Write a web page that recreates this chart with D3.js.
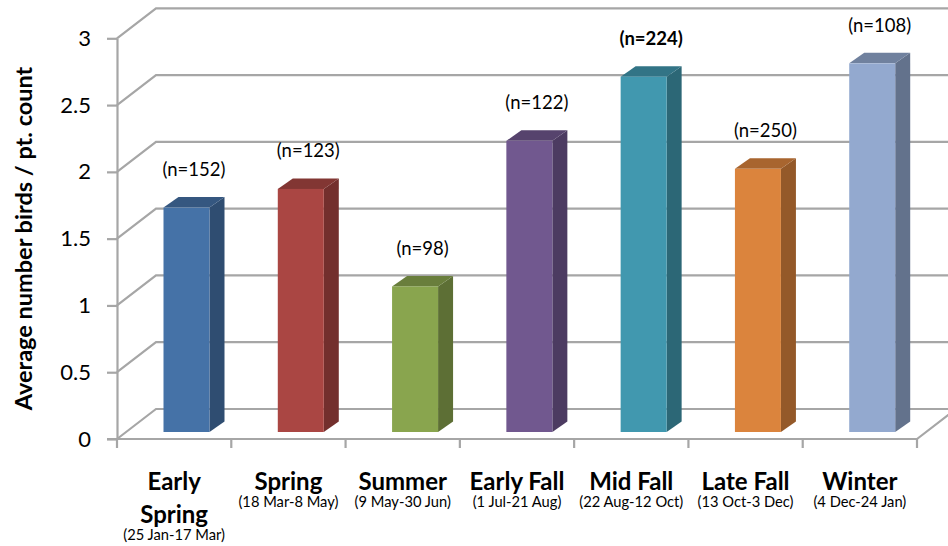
<!DOCTYPE html>
<html>
<head>
<meta charset="utf-8">
<script src="https://cdn.jsdelivr.net/npm/d3@7"></script>
<style>
  html, body { margin: 0; padding: 0; background: #fff; }
  svg { display: block; font-family: Lato, "Open Sans", sans-serif; }
</style>
</head>
<body>
<svg id="chart" width="948" height="546"></svg>
<script>
// ---- data ----
const categories = ["Early Spring", "Spring", "Summer", "Early Fall", "Mid Fall", "Late Fall", "Winter"];
const categoryLines = [["Early", "Spring"], ["Spring"], ["Summer"], ["Early Fall"], ["Mid Fall"], ["Late Fall"], ["Winter"]];
const dateRanges = ["(25 Jan-17 Mar)", "(18 Mar-8 May)", "(9 May-30 Jun)", "(1 Jul-21 Aug)", "(22 Aug-12 Oct)", "(13 Oct-3 Dec)", "(4 Dec-24 Jan)"];
const values = [1.68, 1.82, 1.09, 2.18, 2.66, 1.97, 2.76];
const sampleSizes = [152, 123, 98, 122, 224, 250, 108];
const yTicks = [0, 0.5, 1, 1.5, 2, 2.5, 3];
const yTitle = "Average number birds / pt. count";

// ---- styles ----
const palette = ["#4572A7", "#AA4643", "#89A54E", "#71588F", "#4198AF", "#DB843D", "#93A9CF"];
const gridColor = "#a6a6a6";
const emphasized = "Mid Fall";

// ---- layout ----
const svg = d3.select("#chart");
const x = d3.scaleBand().domain(categories).range([117, 917]).paddingInner(0).paddingOuter(0);
const y = d3.scaleLinear().domain([0, 3]).range([439, 38.3]);
const wall = { dx: 39, dy: -30 };
const barDepth = { dx: 15, dy: -10.5 };
const barLift = 7;       // bars sit part-way into the floor depth
const barInset = 46.5;   // front-left of bar from band start
const barW = 46;

const grid = svg.append("g").attr("fill", "none").attr("stroke", gridColor).attr("stroke-width", 2.2);

// back-wall gridlines + side-wall diagonals
yTicks.forEach(t => {
  const yy = y(t);
  grid.append("path").attr("d", `M${x.range()[0]},${yy}L${x.range()[0] + wall.dx},${yy + wall.dy}L948,${yy + wall.dy}`);
});

// y axis
const yAxis = d3.axisLeft(y).tickValues(yTicks).tickSize(10).tickSizeOuter(0).tickPadding(16).tickFormat(d3.format(""));
const yg = svg.append("g").attr("transform", `translate(${x.range()[0]},0)`).call(yAxis);
yg.selectAll("path, line").attr("stroke", gridColor).attr("stroke-width", 2.2);
yg.selectAll("text").attr("font-family", "Lato, sans-serif").attr("font-size", 22).attr("fill", "#000");

// x axis (front floor edge)
const x0 = y(0);
grid.append("path").attr("d", `M${x.range()[0] - 10},${x0}L${x.range()[1]},${x0}L${x.range()[1] + wall.dx},${x0 + wall.dy}`);
const edges = categories.map(c => x(c)).concat([x.range()[1]]);
grid.selectAll("line.xt").data(edges).join("line")
  .attr("x1", d => d).attr("x2", d => d).attr("y1", x0).attr("y2", x0 + 9);

// bars
const bars = svg.append("g");
categories.forEach((c, i) => {
  const fx = x(c) + barInset;
  const base = y(0) - barLift;
  const top = y(values[i]) - barLift;
  const col = d3.color(palette[i]);
  const g = bars.append("g");
  // side
  g.append("path").attr("fill", col.darker(1.1))
    .attr("d", `M${fx + barW},${base}L${fx + barW + barDepth.dx},${base + barDepth.dy}L${fx + barW + barDepth.dx},${top + barDepth.dy}L${fx + barW},${top}Z`);
  // top
  g.append("path").attr("fill", col.darker(0.75))
    .attr("d", `M${fx},${top}L${fx + barDepth.dx},${top + barDepth.dy}L${fx + barW + barDepth.dx},${top + barDepth.dy}L${fx + barW},${top}Z`);
  // front
  g.append("rect").attr("x", fx).attr("y", top).attr("width", barW).attr("height", base - top).attr("fill", col);

  // n label
  svg.append("text")
    .attr("x", fx + barW / 2 + barDepth.dx / 2)
    .attr("y", top - 38)
    .attr("dy", "0.35em")
    .attr("text-anchor", "middle")
    .attr("font-size", 18.5)
    .attr("font-weight", c === emphasized ? "bold" : "normal")
    .text(`(n=${sampleSizes[i]})`);

  // category label
  const cx = x(c) + x.bandwidth() / 2;
  const lines = categoryLines[i];
  lines.forEach((ln, j) => {
    svg.append("text").attr("x", cx).attr("y", 490 + j * 33)
      .attr("text-anchor", "middle").attr("font-weight", "bold").attr("font-size", 24)
      .text(ln);
  });
  svg.append("text").attr("x", cx).attr("y", 490 + (lines.length - 1) * 33 + 16.5)
    .attr("text-anchor", "middle").attr("font-size", 14.7)
    .text(dateRanges[i]);
});

// y title
svg.append("text")
  .attr("transform", "translate(24,238.5) rotate(-90)")
  .attr("text-anchor", "middle").attr("dy", "0.35em")
  .attr("font-weight", "bold").attr("font-size", 23.5)
  .text(yTitle);
</script>
</body>
</html>
